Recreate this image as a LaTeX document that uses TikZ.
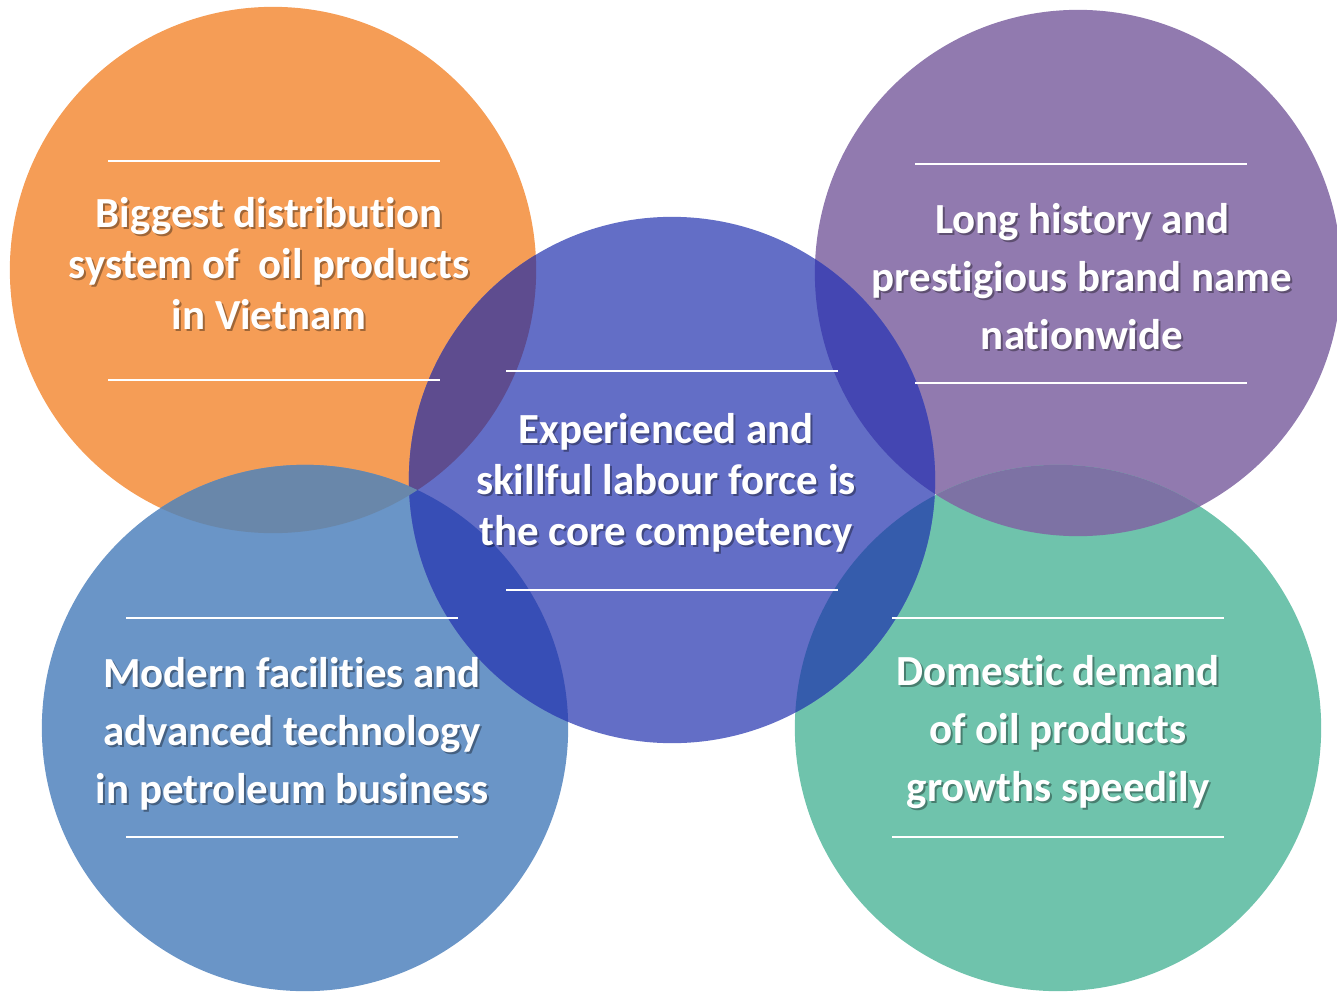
\documentclass[tikz,border=0pt]{standalone}
\usepackage{fontspec}
\setmainfont{Carlito}[Ligatures={NoCommon,NoContextual}]
\definecolor{orangec}{HTML}{F59D56}
\definecolor{purplec}{HTML}{917AAF}
\definecolor{corec}{HTML}{636EC6}
\definecolor{bluec}{HTML}{6A95C7}
\definecolor{greenc}{HTML}{6FC3AC}
\definecolor{orangecore}{HTML}{5E4C8F}
\definecolor{purplecore}{HTML}{4446B2}
\definecolor{bluecore}{HTML}{374EB6}
\definecolor{greencore}{HTML}{355CAC}
\definecolor{orangeblue}{HTML}{6987AA}
\definecolor{purplegreen}{HTML}{7D72A4}
\newcommand{\bubbletext}[5]{%
  \node[txtshadow, font=#5] at (#2+2,#3+2) {#4};
  \node[txt, font=#5] (#1) at (#2,#3) {#4};}
\begin{document}
\begin{tikzpicture}[x=0.01cm, y=-0.01cm,
    txt/.style={text=white, align=center},
    txtshadow/.style={text=black, text opacity=0.35, align=center},
    rule/.style={white, line width=0.35pt}]
				\useasboundingbox (0,0) rectangle (1337,991);
				% circle centres
				\coordinate (orange) at (273,270);
				\coordinate (purple) at (1078,273);
				\coordinate (blue) at (305,728);
				\coordinate (green) at (1058,728);
				\coordinate (core) at (672,480);
				% circles
				\foreach \c in {orange, purple, blue, green, core}
					\fill [\c c] (\c) circle (2.63cm);
				% overlaps
				\foreach \a/\b in {orange/core, purple/core, blue/core, green/core, orange/blue, purple/green}{
					\begin{scope}
						\clip (\a) circle (2.63cm);
						\fill [\a\b] (\b) circle (2.63cm);
					\end{scope}
				}
				% white rules
				\foreach \x/\y in {274/161, 274/380, 1081/164, 1081/383, 672/371, 672/590, 292/618, 292/837, 1058/618, 1058/837}
					\draw [rule] (\x-166,\y) -- (\x+166,\y);
				% texts
				\bubbletext{orangetxt}{269}{264}{Biggest distribution\\system of\ \ oil products\\in Vietnam}{\fontsize{12.2}{14.5}\selectfont\bfseries}
				\bubbletext{coretxt}{666}{483}{Experienced and\\skillful labour force is\\the core competency}{\fontsize{12.2}{14.5}\selectfont\bfseries}
				\bubbletext{purpletxt}{1082}{277}{Long history and\\prestigious brand name\\nationwide}{\fontsize{12.2}{16.5}\selectfont\bfseries}
				\bubbletext{bluetxt}{292}{734}{Modern facilities and\\advanced technology\\in petroleum business}{\fontsize{12.2}{16.5}\selectfont\bfseries}
				\bubbletext{greentxt}{1058}{732}{Domestic demand\\of oil products\\growths speedily}{\fontsize{12.2}{16.5}\selectfont\bfseries}
			\end{tikzpicture}
\end{document}
